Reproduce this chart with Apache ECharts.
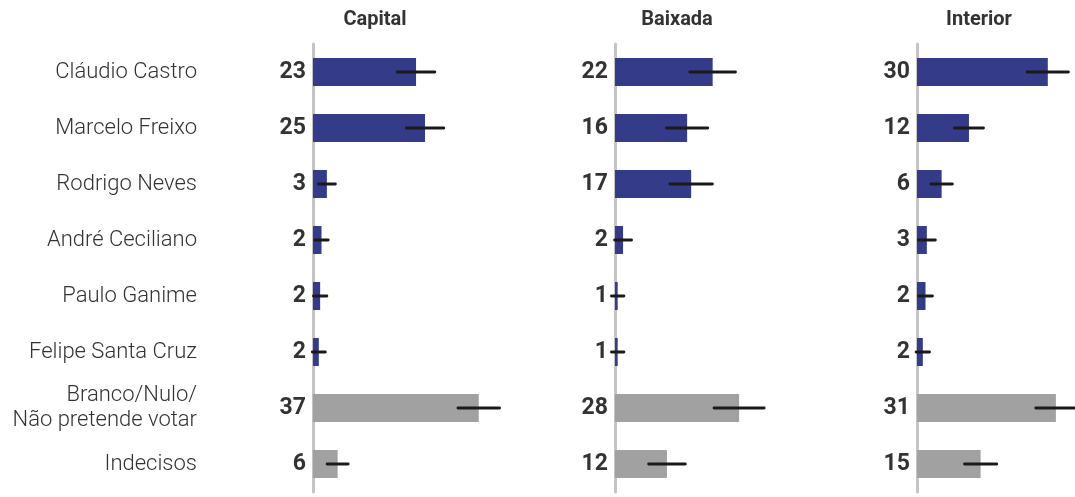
<!DOCTYPE html>
<html>
<head>
    <meta charset="utf-8">
    <title>Pesquisa RJ</title>
    <script src="https://cdn.jsdelivr.net/npm/echarts@6/dist/echarts.min.js"></script>
    <style>
        html, body {margin: 0; padding: 0; background: #fff;}
        #main {width: 1075px; height: 497px;}
    </style>
</head>
<body>
<div id="main"></div>
<script type="text/javascript">
    // categorias (linhas)
    var categories = ['Cláudio Castro', 'Marcelo Freixo', 'Rodrigo Neves', 'André Ceciliano',
        'Paulo Ganime', 'Felipe Santa Cruz', 'Branco/Nulo/\nNão pretende votar', 'Indecisos'];
    var regions = ['Capital', 'Baixada', 'Interior'];

    // valores (%), rótulos arredondados e margem de erro
    var capitalValues = [23, 25, 3.1, 1.9, 1.6, 1.3, 37, 5.5];
    var capitalLabels = ['23', '25', '3', '2', '2', '2', '37', '6'];
    var capitalErrors = [4.2, 4.2, 1.9, 1.5, 1.5, 1.45, 4.65, 2.35];

    var baixadaValues = [21.8, 16.1, 17, 1.8, 0.6, 0.6, 27.7, 11.6];
    var baixadaLabels = ['22', '16', '17', '2', '1', '1', '28', '12'];
    var baixadaErrors = [5.1, 4.6, 4.75, 1.9, 1.4, 1.4, 5.6, 4.1];

    var interiorValues = [29.2, 11.6, 5.5, 2.2, 1.9, 1.3, 31, 14.2];
    var interiorLabels = ['30', '12', '6', '3', '2', '2', '31', '15'];
    var interiorErrors = [4.6, 3.25, 2.4, 1.9, 1.55, 1.5, 4.5, 3.6];

    var panels = [
        {values: capitalValues, labels: capitalLabels, errors: capitalErrors, left: 313},
        {values: baixadaValues, labels: baixadaLabels, errors: baixadaErrors, left: 615},
        {values: interiorValues, labels: interiorLabels, errors: interiorErrors, left: 917}
    ];

    var BLUE = '#343c8a';
    var GRAY = '#a1a1a1';
    var FONT = 'Roboto';

    var grid = [], xAxis = [], yAxis = [], series = [], title = [];

    panels.forEach(function (p, i) {
        // 4.48 px por ponto percentual
        grid.push({left: p.left, top: 44, height: 448, width: 134.4});
        title.push({
            text: regions[i],
            left: p.left + 57,
            top: 5,
            textAlign: 'center',
            textStyle: {fontFamily: FONT, fontWeight: 'bold', fontSize: 20, color: '#333'}
        });
        xAxis.push({
            gridIndex: i, type: 'value', min: 0, max: 30,
            show: false
        });
        yAxis.push({
            gridIndex: i, type: 'category', inverse: true, data: categories,
            axisLine: {show: true, lineStyle: {color: '#c4c4c4', width: 3}},
            axisTick: {show: false},
            splitLine: {show: false},
            axisLabel: {
                margin: 7,
                fontFamily: FONT, fontWeight: 'bold', fontSize: 23, color: '#333',
                formatter: function (v, idx) { return p.labels[idx]; }
            }
        });
        series.push({
            type: 'bar',
            xAxisIndex: i, yAxisIndex: i,
            barWidth: 28,
            clip: false,
            data: p.values.map(function (v, k) {
                return {value: v, itemStyle: {color: k < 6 ? BLUE : GRAY}};
            }),
            silent: true
        });
        series.push({
            type: 'custom',
            xAxisIndex: i, yAxisIndex: i,
            clip: false,
            silent: true,
            z: 5,
            data: p.values.map(function (v, k) { return [v, k, p.errors[k]]; }),
            renderItem: function (params, api) {
                var v = api.value(0), k = api.value(1), e = api.value(2);
                var a = api.coord([v - e, k]);
                var b = api.coord([v + e, k]);
                return {
                    type: 'line',
                    shape: {x1: a[0], y1: a[1], x2: b[0], y2: b[1]},
                    style: {stroke: '#1a1a1a', lineWidth: 2.8, lineCap: 'round'}
                };
            }
        });
    });

    // nomes dos candidatos à esquerda
    yAxis.push({
        gridIndex: 0, type: 'category', inverse: true, data: categories,
        position: 'left',
        axisLine: {show: false}, axisTick: {show: false}, splitLine: {show: false},
        axisLabel: {
            margin: 116,
            fontFamily: FONT, fontWeight: 300, fontSize: 22, color: '#333',
            lineHeight: 25, align: 'right', padding: [3, 0, 0, 0]
        }
    });

    var myChart = echarts.init(document.getElementById('main'));
    myChart.setOption({
        animation: false,
        title: title,
        grid: grid,
        xAxis: xAxis,
        yAxis: yAxis,
        series: series
    });
</script>
</body>
</html>
